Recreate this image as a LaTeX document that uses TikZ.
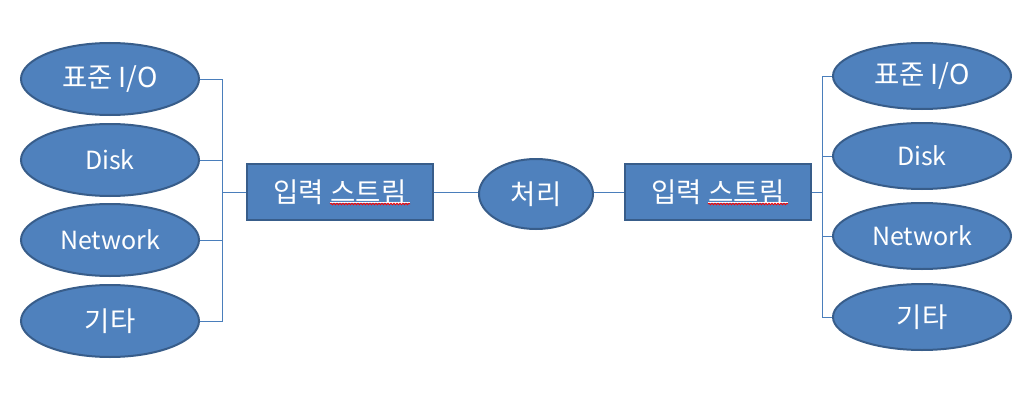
\documentclass[tikz,border=0pt]{standalone}
\usepackage{fontspec}
\setmainfont{Noto Sans CJK KR}
\usetikzlibrary{shapes.geometric,decorations.pathmorphing}
\definecolor{srcfill}{HTML}{4F81BD}
\definecolor{srcedge}{HTML}{385D8A}
\definecolor{wire}{HTML}{4A7EBB}
\tikzset{
  src/.style={ellipse, fill=srcfill, draw=srcedge, line width=2pt, inner sep=0pt,
    minimum width=178, minimum height=72, text=white, font=\fontsize{25}{30}\selectfont},
  dst/.style={src, minimum height=66},
  hangul/.style={font=\fontsize{27.5}{32}\selectfont},
  streambox/.style={rectangle, fill=srcfill, draw=srcedge, line width=2.5pt, inner sep=0pt,
    minimum width=186, minimum height=56, text=white, hangul},
  wireline/.style={draw=wire, line width=1pt},
  spellmark/.style={red, line width=0.8pt, decorate,
    decoration={snake, amplitude=0.8, segment length=3}}
}
\begin{document}
\begin{tikzpicture}[x=1pt, y=-1pt]
    \useasboundingbox (0,0) rectangle (1025,404);
    % left side: sources
    \node[src, hangul] (lio) at (110,79) {표준 I/O};
    \node[src] (ldisk) at (110,160) {Disk};
    \node[src] (lnet) at (110,240) {Network};
    \node[src, hangul] (letc) at (110,321) {기타};
    \node[streambox] (lin) at (340,192) {입력 스트림};
    \coordinate (lbus) at (222,192);
    % middle
    \node[src, hangul, minimum width=114, minimum height=70] (proc) at (536,194) {처리};
    % right side: targets
    \node[streambox] (rout) at (718,192) {입력 스트림};
    \coordinate (rbus) at (822,192);
    \node[dst, hangul] (rio) at (922,76) {표준 I/O};
    \node[dst] (rdisk) at (922,156) {Disk};
    \node[dst] (rnet) at (922,236) {Network};
    \node[dst, hangul] (retc) at (922,317) {기타};
    % spelling marks under the second word
    \foreach \b in {lin,rout} {
        \draw[white, line width=0.8pt] ([xshift=-10, yshift=-10]\b.center) -- ([xshift=70, yshift=-10]\b.center);
        \draw[spellmark] ([xshift=-10, yshift=-12]\b.center) -- ([xshift=70, yshift=-12]\b.center);
    }
    % connectors
    \foreach \n in {lio,ldisk,lnet,letc}
        \draw[wireline] (\n.east) -| (lbus);
    \foreach \n in {rio,rdisk,rnet,retc}
        \draw[wireline] (\n.west) -| (rbus);
    \draw[wireline] (lbus) -- (lin.west);
    \draw[wireline] (lin.east) -- (proc.west |- lin.east);
    \draw[wireline] (proc.east |- rout.west) -- (rout.west);
    \draw[wireline] (rout.east) -- (rbus);
\end{tikzpicture}
\end{document}
